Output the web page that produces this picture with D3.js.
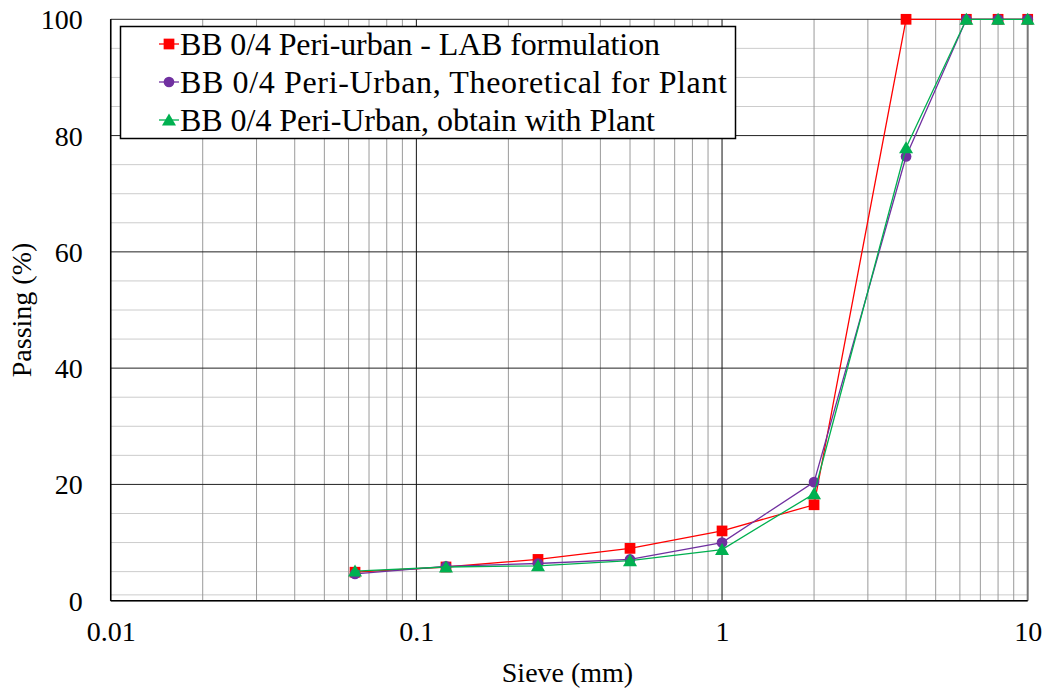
<!DOCTYPE html>
<html>
<head>
<meta charset="utf-8">
<script src="https://cdn.jsdelivr.net/npm/d3@7"></script>
<style>
  html, body { margin: 0; padding: 0; background: #fff; }
  svg text { font-family: "Liberation Serif", "DejaVu Serif", serif; fill: #000; }
</style>
</head>
<body>
<svg id="chart" width="1047" height="692" font-family="Liberation Serif, serif"></svg>
<script>
// sieve sizes (mm)
var sieves = [0.063, 0.125, 0.25, 0.5, 1, 2, 4, 6.3, 8, 10];
// passing (%) per series
var labValues = [4.9, 5.8, 7.1, 9.0, 12.0, 16.5, 100, 100, 100, 100];
var theoValues = [4.6, 5.9, 6.4, 7.1, 10.0, 20.4, 76.4, 100, 100, 100];
var plantValues = [5.1, 5.8, 6.0, 6.9, 8.8, 18.4, 77.9, 100, 100, 100];
var seriesNames = ['BB 0/4 Peri-urban - LAB formulation',
                   'BB 0/4 Peri-Urban, Theoretical for Plant',
                   'BB 0/4 Peri-Urban, obtain with Plant'];
var seriesColors = ['#ff0000', '#7030a0', '#00b050'];
var seriesMarkers = ['square', 'circle', 'triangle'];
var xTicks = [0.01, 0.1, 1, 10];
var yTicks = [0, 20, 40, 60, 80, 100];
var yMinor = [1, 5, 10, 15, 25, 30, 35, 45, 50, 55, 65, 70, 75, 85, 90, 95];

var svg = d3.select('#chart');
var margin = {left: 110.7, right: 1047 - 1027.7, top: 19.3, bottom: 692 - 600.7},
    width = 1047 - margin.left - margin.right,
    height = 692 - margin.top - margin.bottom;
var serif = '"Liberation Serif", "DejaVu Serif", serif';

var xScale = d3.scaleLog().domain([0.01, 10]).range([0, width]);
var yScale = d3.scaleLinear().domain([0, 100]).range([height, 0]);

var g = svg.append('g').attr('transform', d3.zoomIdentity.translate(margin.left, margin.top));

// x minor grid (2..9 in each decade)
var xMinor = [];
[0.01, 0.1, 1].forEach(function(dec){
    for (var k = 2; k <= 9; k++) xMinor.push(dec * k);
});

var grid = g.append('g').attr('id', 'grid');
grid.selectAll('line.ymin').data(yMinor).enter().append('line')
    .attr('class', 'ymin')
    .attr('x1', 0).attr('x2', width)
    .attr('y1', function(d){ return yScale(d); }).attr('y2', function(d){ return yScale(d); })
    .style('stroke', '#cccccc').style('stroke-width', 1);
grid.selectAll('line.xmin').data(xMinor).enter().append('line')
    .attr('class', 'xmin')
    .attr('x1', function(d){ return xScale(d); }).attr('x2', function(d){ return xScale(d); })
    .attr('y1', 0).attr('y2', height)
    .style('stroke', '#9a9a9a').style('stroke-width', 1);
grid.selectAll('line.ymaj').data(yTicks).enter().append('line')
    .attr('class', 'ymaj')
    .attr('x1', 0).attr('x2', width)
    .attr('y1', function(d){ return yScale(d); }).attr('y2', function(d){ return yScale(d); })
    .style('stroke', '#222').style('stroke-width', 1);
grid.selectAll('line.xmaj').data(xTicks).enter().append('line')
    .attr('class', 'xmaj')
    .attr('x1', function(d){ return xScale(d); }).attr('x2', function(d){ return xScale(d); })
    .attr('y1', 0).attr('y2', height)
    .style('stroke', function(d){ return d === 10 ? '#777' : '#111'; })
    .style('stroke-width', function(d){ return d === 10 ? 2 : 1; });

// axes
var yAxis = d3.axisLeft(yScale).tickValues(yTicks).tickSize(0).tickPadding(28).tickFormat(d3.format('d'));
var xAxis = d3.axisBottom(xScale).tickValues(xTicks).tickSize(0).tickPadding(20)
              .tickFormat(function(d){ return String(d); });

g.append('g').attr('id', 'yaxis').call(yAxis)
  .attr('font-family', serif).attr('font-size', 28)
  .call(function(s){ s.select('.domain').remove(); })
  .selectAll('text').attr('dy', '0.34em');
g.append('g').attr('id', 'xaxis').attr('transform', d3.zoomIdentity.translate(0, height)).call(xAxis)
  .attr('font-family', serif).attr('font-size', 28)
  .call(function(s){ s.select('.domain').remove(); })
  .selectAll('text').attr('dy', '0.71em');

// plot frame: left and bottom axis lines
g.append('line').attr('x1', 0).attr('x2', 0).attr('y1', 0).attr('y2', height).style('stroke', '#000').style('stroke-width', 1.5);
g.append('line').attr('x1', 0).attr('x2', width).attr('y1', height).attr('y2', height).style('stroke', '#000').style('stroke-width', 1.5);

// axis titles
svg.append('text').text('Sieve (mm)')
   .attr('x', 567.5).attr('y', 682)
   .style('text-anchor', 'middle').style('font-size', '28px');
svg.append('text').text('Passing (%)')
   .attr('transform', 'translate(31,310) rotate(-90)')
   .style('text-anchor', 'middle').style('font-size', '28px');

// series
var series = [labValues, theoValues, plantValues].map(function(vals, i){
    return {name: seriesNames[i], color: seriesColors[i], marker: seriesMarkers[i],
            values: sieves.map(function(s, j){ return {x: s, y: vals[j]}; })};
});

var line = d3.line().x(function(d){ return xScale(d.x); }).y(function(d){ return yScale(d.y); });
var symbolFor = function(m){
    if (m === 'square') return d3.symbol().type(d3.symbolSquare).size(115)();
    if (m === 'circle') return d3.symbol().type(d3.symbolCircle).size(90)();
    return d3.symbol().type(d3.symbolTriangle).size(85)();
};

var plot = g.append('g').attr('id', 'mainParts');
series.forEach(function(s){
    var sg = plot.append('g');
    sg.append('path').attr('d', line(s.values))
      .style('fill', 'none').style('stroke', s.color).style('stroke-width', 1.3);
    sg.selectAll('path.mk').data(s.values).enter().append('path')
      .attr('class', 'mk')
      .attr('transform', function(d){ return d3.zoomIdentity.translate(xScale(d.x), yScale(d.y) + (s.marker === 'triangle' ? 1.5 : 0)); })
      .attr('d', symbolFor(s.marker))
      .style('fill', s.color);
});

// legend
var legendWidths = [480, 547, 475];
var legend = svg.append('g').attr('id', 'legend');
legend.append('rect').attr('x', 120.5).attr('y', 26.5).attr('width', 615).attr('height', 112)
      .style('fill', '#fff').style('stroke', '#000').style('stroke-width', 1.5);
series.forEach(function(s, i){
    var cy = 44 + i * 38;
    var row = legend.append('g').attr('transform', d3.zoomIdentity.translate(0, cy));
    row.append('line').attr('x1', 159).attr('x2', 179).attr('y1', 0).attr('y2', 0)
       .style('stroke', s.color).style('stroke-width', 1.3);
    row.append('path').attr('transform', d3.zoomIdentity.translate(169, s.marker === 'triangle' ? 1.5 : 0))
       .attr('d', symbolFor(s.marker)).style('fill', s.color);
    row.append('text').text(s.name).attr('x', 180).attr('y', 0).attr('dy', '0.34em')
       .attr('textLength', legendWidths[i]).attr('lengthAdjust', 'spacing')
       .style('font-size', '32px');
});
</script>
</body>
</html>
